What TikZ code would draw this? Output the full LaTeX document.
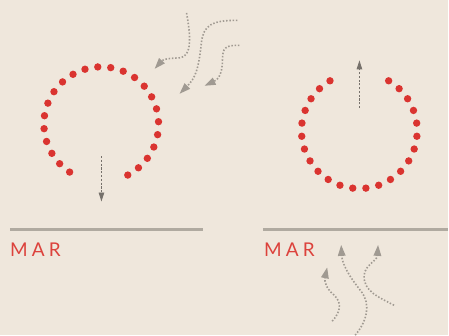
\documentclass[tikz,border=0pt]{standalone}
\usepackage{fontspec}
\usepackage{xcolor}
\usepackage{tikz}
\usetikzlibrary{arrows.meta}
\newfontfamily\labfont[LetterSpace=22]{Lato}
\definecolor{figpanel}{RGB}{239,231,220}
\definecolor{figdot}{RGB}{218,52,48}
\definecolor{figrule}{RGB}{176,170,160}
\definecolor{figdash}{RGB}{118,113,107}
\definecolor{figwig}{RGB}{160,154,146}
\definecolor{figlab}{RGB}{220,66,60}
\tikzset{
  dot/.style  ={fill=figdot},
  base/.style ={draw=figrule, line width=2.2pt},
  lab/.style  ={font=\labfont\fontsize{19}{19}\selectfont, text=figlab, inner sep=0pt, anchor=base west},
  dsh/.style  ={draw=figdash, line width=0.9pt, dash pattern=on 2.2pt off 1.6pt, -{Triangle[length=9pt,width=5.5pt]}},
  wig/.style  ={draw=figwig, line width=1.6pt, dash pattern=on 1.5pt off 1.8pt,
                -{Triangle[length=11pt,width=7.5pt,fill=figwig]}},
}
\begin{document}
\begin{tikzpicture}[x=1pt,y=-1pt]
  \fill[figpanel] (0,0) rectangle (449,336);
  % left ring, open at the bottom
  \fill[dot] (128.1,175.5) circle (3.7);
  \fill[dot] (138.8,168.2) circle (3.7);
  \fill[dot] (147.7,158.7) circle (3.7);
  \fill[dot] (154.2,147.4) circle (3.7);
  \fill[dot] (158.0,135.0) circle (3.7);
  \fill[dot] (158.9,122.0) circle (3.7);
  \fill[dot] (156.9,109.1) circle (3.7);
  \fill[dot] (152.0,97.1) circle (3.7);
  \fill[dot] (144.6,86.4) circle (3.7);
  \fill[dot] (134.9,77.7) circle (3.7);
  \fill[dot] (123.5,71.4) circle (3.7);
  \fill[dot] (111.0,67.8) circle (3.7);
  \fill[dot] (98.0,67.1) circle (3.7);
  \fill[dot] (85.2,69.4) circle (3.7);
  \fill[dot] (73.2,74.5) circle (3.7);
  \fill[dot] (62.7,82.1) circle (3.7);
  \fill[dot] (54.1,91.9) circle (3.7);
  \fill[dot] (48.0,103.4) circle (3.7);
  \fill[dot] (44.6,116.0) circle (3.7);
  \fill[dot] (44.2,129.0) circle (3.7);
  \fill[dot] (46.7,141.8) circle (3.7);
  \fill[dot] (52.0,153.7) circle (3.7);
  \fill[dot] (59.8,164.1) circle (3.7);
  \fill[dot] (69.8,172.5) circle (3.7);
  \draw[dsh] (101.7,156.5) -- (101.7,202);
  % incoming wiggles, top
  \draw[wig] (187,13) .. controls (191,35) and (193,57) .. (180,58)
             .. controls (170,58.5) and (164,59) .. (155,69);
  \draw[wig] (238,20.5) .. controls (212,20) and (204,26) .. (202,42)
             .. controls (199,70) and (196,78) .. (180,94);
  \draw[wig] (240,45.5) .. controls (226,45) and (223,48) .. (223,60)
             .. controls (223,75) and (218,80) .. (205,86);
  \draw[base] (10,230) -- (203.5,230);
  \node[lab] (marl) at (10,257) {MAR};
  % right ring, open at the top
  \fill[dot] (330.8,81.0) circle (3.7);
  \fill[dot] (320.3,88.9) circle (3.7);
  \fill[dot] (311.8,99.0) circle (3.7);
  \fill[dot] (305.9,110.7) circle (3.7);
  \fill[dot] (302.7,123.4) circle (3.7);
  \fill[dot] (302.5,136.6) circle (3.7);
  \fill[dot] (305.2,149.4) circle (3.7);
  \fill[dot] (310.8,161.3) circle (3.7);
  \fill[dot] (318.8,171.7) circle (3.7);
  \fill[dot] (329.0,179.9) circle (3.7);
  \fill[dot] (340.8,185.7) circle (3.7);
  \fill[dot] (353.6,188.6) circle (3.7);
  \fill[dot] (366.8,188.6) circle (3.7);
  \fill[dot] (379.6,185.7) circle (3.7);
  \fill[dot] (391.4,179.9) circle (3.7);
  \fill[dot] (401.6,171.7) circle (3.7);
  \fill[dot] (409.7,161.3) circle (3.7);
  \fill[dot] (415.2,149.4) circle (3.7);
  \fill[dot] (417.9,136.6) circle (3.7);
  \fill[dot] (417.7,123.4) circle (3.7);
  \fill[dot] (414.5,110.7) circle (3.7);
  \fill[dot] (408.6,99.0) circle (3.7);
  \fill[dot] (400.1,88.9) circle (3.7);
  \fill[dot] (389.6,81.0) circle (3.7);
  \draw[dsh] (360.3,108.5) -- (360.3,60.5);
  \draw[base] (263.5,230) -- (449,230);
  \node[lab] (marr) at (264.5,257) {MAR};
  % incoming wiggles, bottom
  \draw[wig] (333,322) .. controls (342,312) and (343,303) .. (334,295)
             .. controls (327,289) and (325,282) .. (328,268);
  \draw[wig] (356,336) .. controls (368,322) and (372,305) .. (362,292)
             .. controls (350,277) and (343,265) .. (342,245.5);
  \draw[wig] (395,306) .. controls (380,298) and (364,292) .. (365,276)
             .. controls (366,265) and (378,262) .. (379,245.5);
\end{tikzpicture}
\end{document}
